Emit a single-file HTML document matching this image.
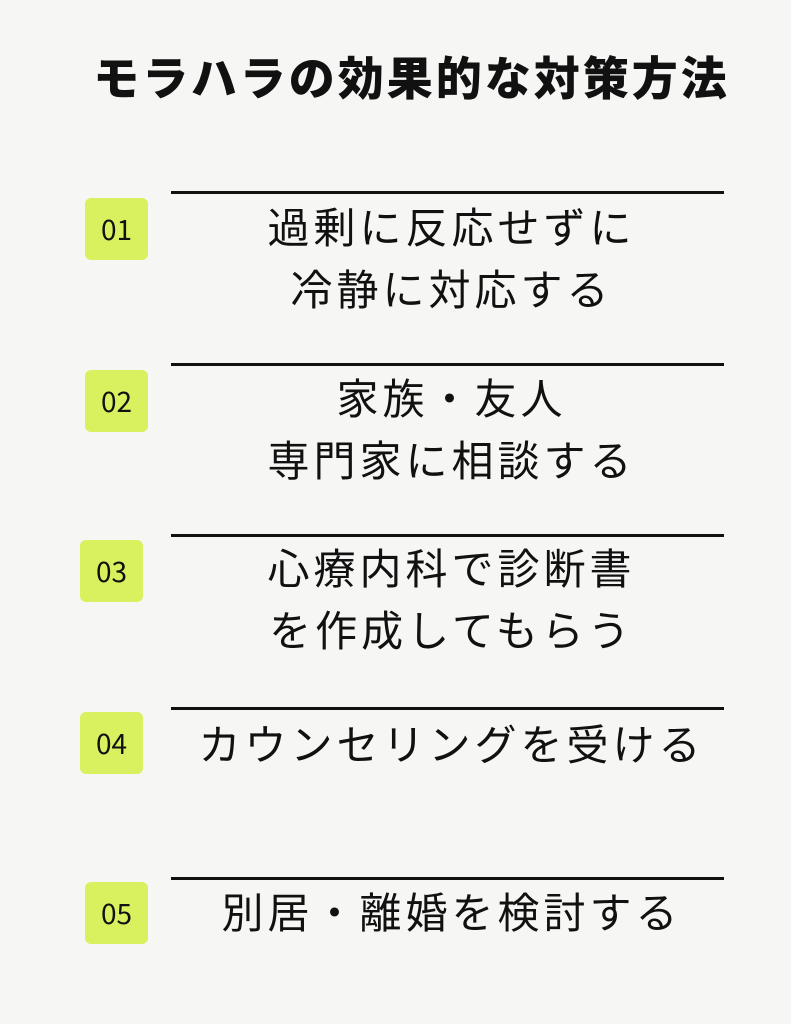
<!DOCTYPE html><html><head><meta charset="utf-8"><style>
body{margin:0;width:791px;height:1024px;background:#f6f7f4;position:relative;overflow:hidden;font-family:"Liberation Sans","Noto Sans CJK JP",sans-serif;color:#111}
.t{position:absolute;left:0;width:823px;text-align:center;top:46px;font-size:46px;line-height:60px;font-weight:900;letter-spacing:3px;font-family:"Noto Sans CJK JP",sans-serif}
.b{position:absolute;width:63px;height:62px;background:#d9f05f;border-radius:6px;font-size:28px;line-height:62px;text-align:center;font-family:"Noto Sans CJK JP",sans-serif;font-weight:400}
.l{position:absolute;left:171px;width:553px;height:3px;background:#111}
.x{position:absolute;left:175px;width:553px;text-align:center;font-size:42px;line-height:62px;letter-spacing:4px;font-family:"Noto Sans CJK JP",sans-serif}
</style></head><body>
<div class="t">モラハラの効果的な対策方法</div>
<div class="l" style="top:191px"></div><div class="b" style="left:85px;top:198px">01</div>
<div class="x" style="top:195px">過剰に反応せずに<br>冷静に対応する</div>
<div class="l" style="top:363px"></div><div class="b" style="left:85px;top:370px">02</div>
<div class="x" style="top:366px">家族・友人<br>専門家に相談する</div>
<div class="l" style="top:534px"></div><div class="b" style="left:80px;top:540px">03</div>
<div class="x" style="top:536px">心療内科で診断書<br>を作成してもらう</div>
<div class="l" style="top:707px"></div><div class="b" style="left:80px;top:712px">04</div>
<div class="x" style="top:712px">カウンセリングを受ける</div>
<div class="l" style="top:877px"></div><div class="b" style="left:85px;top:882px">05</div>
<div class="x" style="top:880px">別居・離婚を検討する</div>
</body></html>
